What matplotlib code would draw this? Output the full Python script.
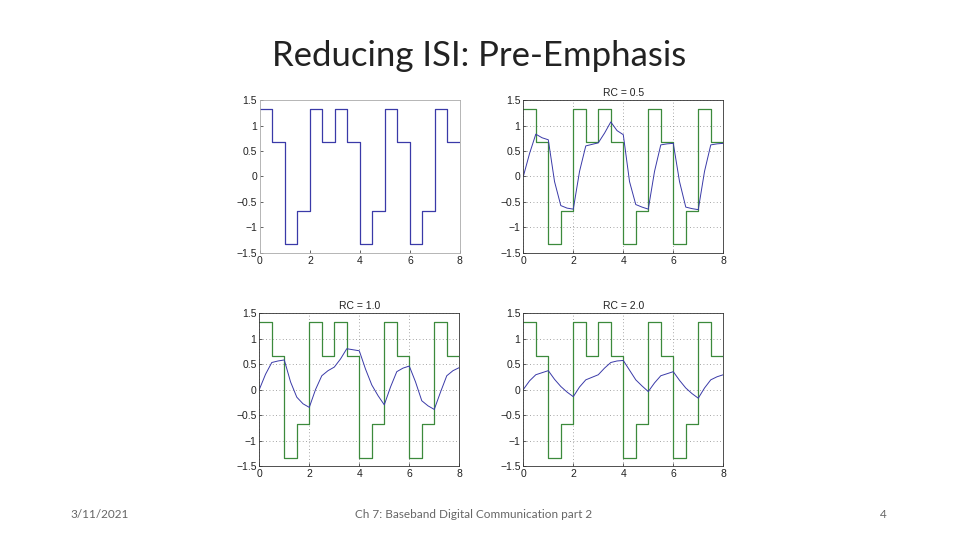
import numpy as np
import matplotlib.pyplot as plt

# pre-emphasised symbol levels, one per half-bit interval
levels = [1.333, 0.667, -1.333, -0.667, 1.333, 0.667, 1.333, 0.667,
          -1.333, -0.667, 1.333, 0.667, -1.333, -0.667, 1.333, 0.667]
t_step = np.arange(0, 8.5, 0.5)

t_resp = np.arange(0, 8.25, 0.25)
rc_05 = [0, 0.45, 0.83, 0.76, 0.72, -0.1, -0.57, -0.62, -0.64, 0.1, 0.6, 0.63,
         0.66, 0.85, 1.07, 0.9, 0.82, -0.1, -0.55, -0.6, -0.64, 0.1, 0.62, 0.64,
         0.65, -0.1, -0.6, -0.63, -0.65, 0.1, 0.62, 0.64, 0.65]
rc_10 = [0, 0.3, 0.53, 0.56, 0.58, 0.15, -0.15, -0.28, -0.35, 0.0, 0.27, 0.37,
         0.44, 0.6, 0.8, 0.78, 0.76, 0.4, 0.09, -0.12, -0.3, 0.05, 0.35, 0.42,
         0.46, 0.15, -0.22, -0.32, -0.39, -0.05, 0.27, 0.37, 0.43]
rc_20 = [0, 0.17, 0.29, 0.33, 0.37, 0.2, 0.06, -0.05, -0.14, 0.05, 0.19, 0.24,
         0.29, 0.42, 0.53, 0.56, 0.57, 0.38, 0.19, 0.07, -0.04, 0.13, 0.27, 0.31,
         0.35, 0.18, 0.03, -0.08, -0.17, 0.03, 0.19, 0.25, 0.29]

panels = [("RC = 0.5", rc_05), ("RC = 1.0", rc_10), ("RC = 2.0", rc_20)]

fig = plt.figure(figsize=(9.6, 5.4), dpi=100)
fig.patch.set_facecolor("white")

step_vals = levels + [levels[-1]]
green = "#3c8a3c"
blue = "#3a3aa8"
tickfont = "Liberation Sans"

yt = [-1.5, -1, -0.5, 0, 0.5, 1, 1.5]
ytl = ["\u22121.5", "\u22121", "\u22120.5", "0", "0.5", "1", "1.5"]

def style(ax, grid=True):
    ax.set_xlim(0, 8)
    ax.set_ylim(-1.5, 1.5)
    ax.set_xticks([0, 2, 4, 6, 8])
    ax.set_yticks(yt)
    ax.set_yticklabels(ytl)
    ax.tick_params(direction="in", length=2.5, width=0.5, labelsize=7.5, pad=2,
                   colors="#222222")
    for lab in ax.get_xticklabels() + ax.get_yticklabels():
        lab.set_family(tickfont)
    for s in ax.spines.values():
        s.set_linewidth(0.6)
        s.set_color("#333333")
    if grid:
        ax.grid(True, linestyle=(0, (1, 3)), color="#888888", linewidth=0.6)

pos = [(0.2708, 0.5315), (0.5451, 0.5315), (0.2701, 0.137), (0.5451, 0.137)]
w, h = 0.2083, 0.2833

ax0 = fig.add_axes([pos[0][0], pos[0][1], w, h])
ax0.step(t_step, step_vals, where="post", color=blue, lw=0.9)
style(ax0, grid=False)
for s in ax0.spines.values():
    s.set_color("#aaaaaa")

for (title, resp), p in zip(panels, pos[1:]):
    ax = fig.add_axes([p[0], p[1], w, h])
    ax.step(t_step, step_vals, where="post", color=green, lw=0.9)
    ax.plot(t_resp, resp, color=blue, lw=0.7)
    style(ax)
    ax.set_title(title, fontsize=7.5, pad=3, color="#222222", family=tickfont)

fig.text(0.499, 0.897, "Reducing ISI: Pre-Emphasis", ha="center", va="center",
         fontsize=25, family="Lato", color="#222222")
fig.text(0.104, 0.047, "3/11/2021", ha="center", va="center", fontsize=8.5,
         family="Lato", color="#666666")
fig.text(0.493, 0.047, "Ch 7: Baseband Digital Communication part 2", ha="center",
         va="center", fontsize=8.5, family="Lato", color="#666666")
fig.text(0.920, 0.047, "4", ha="center", va="center", fontsize=8.5,
         family="Lato", color="#666666")

fig.savefig("out.png", dpi=100)
